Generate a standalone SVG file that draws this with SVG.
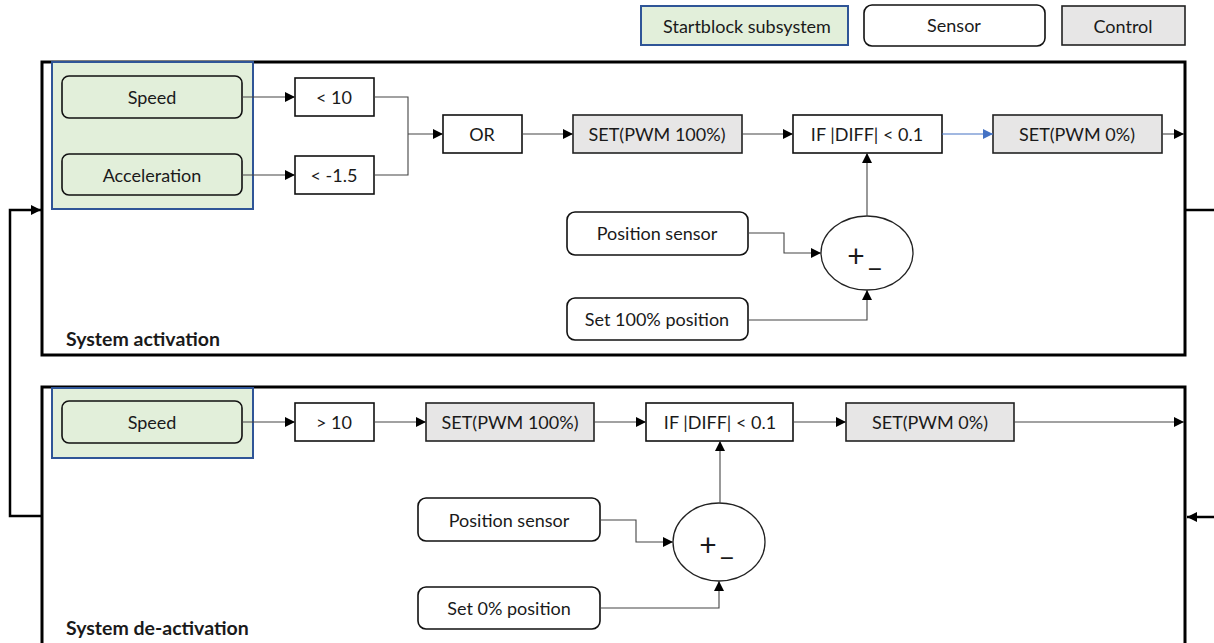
<svg xmlns="http://www.w3.org/2000/svg" width="1214" height="643" viewBox="0 0 1214 643">
<style>
text{font-family:Lato,"Liberation Sans",sans-serif;font-size:18px;fill:#1a1a1a;text-anchor:middle;dominant-baseline:central}
.lbl{font-weight:bold;text-anchor:start;font-size:19.5px}
.pm{font-size:30px}
.frame{fill:none;stroke:#000;stroke-width:3}
.start{fill:#e2efda;stroke:#2f5597;stroke-width:2}
.sensor{fill:#fff;stroke:#111;stroke-width:1.6}
.ctrl{fill:#e7e6e6;stroke:#222;stroke-width:1.6}
.box{fill:#fff;stroke:#111;stroke-width:1.6}
.sg{fill:#e2efda;stroke:#111;stroke-width:1.6}
.c{fill:none;stroke:#444;stroke-width:1.1}
.cb{fill:none;stroke:#4472c4;stroke-width:1.1}
.ck{fill:none;stroke:#000;stroke-width:2.5}
</style>
<defs>
<marker id="a" markerUnits="userSpaceOnUse" markerWidth="12" markerHeight="12" viewBox="0 0 12 12" refX="11" refY="6" orient="auto"><path d="M1,1 L11,6 L1,11 Z" fill="#000"/></marker>
<marker id="ab" markerUnits="userSpaceOnUse" markerWidth="12" markerHeight="12" viewBox="0 0 12 12" refX="11" refY="6" orient="auto"><path d="M1,1 L11,6 L1,11 Z" fill="#4472c4"/></marker>
</defs>

<g id="legend">
<g id="legend-start"><rect class="start" x="641" y="6" width="207" height="39"/><text x="747" y="26">Startblock subsystem</text></g>
<g id="legend-sensor"><rect class="sensor" x="864" y="5" width="181" height="41" rx="8"/><text x="954" y="25">Sensor</text></g>
<g id="legend-control"><rect class="ctrl" x="1062" y="6" width="123" height="39"/><text x="1123" y="26">Control</text></g>
</g>

<g id="frame-activation">
<rect class="frame" x="42" y="62" width="1143" height="293"/>
<text class="lbl" x="66" y="338">System activation</text>
</g>
<g id="frame-deactivation">
<path class="frame" d="M42,650 V387 H1185 V650"/>
<text class="lbl" x="66" y="627">System de-activation</text>
</g>

<g id="startblock-top"><rect class="start" x="52" y="62" width="201" height="147"/></g>
<g id="startblock-bottom"><rect class="start" x="52" y="388" width="201" height="70"/></g>

<g id="speed1"><rect class="sg" x="62" y="76" width="180" height="42" rx="7"/><text x="152" y="97">Speed</text></g>
<g id="accel"><rect class="sg" x="62" y="154" width="180" height="41" rx="7"/><text x="152" y="175">Acceleration</text></g>
<g id="lt10"><rect class="box" x="295" y="78" width="79" height="38"/><text x="334" y="97">&lt; 10</text></g>
<g id="ltm15"><rect class="box" x="295" y="156" width="79" height="38"/><text x="334" y="175">&lt; -1.5</text></g>
<g id="or"><rect class="box" x="443" y="115" width="79" height="38"/><text x="482" y="134">OR</text></g>
<g id="set100a"><rect class="ctrl" x="573" y="115" width="169" height="38"/><text x="657" y="134">SET(PWM 100%)</text></g>
<g id="ifa"><rect class="box" x="793" y="115" width="149" height="38"/><text x="867" y="134">IF |DIFF| &lt; 0.1</text></g>
<g id="set0a"><rect class="ctrl" x="993" y="115" width="169" height="38"/><text x="1077" y="134">SET(PWM 0%)</text></g>
<g id="sum-a"><ellipse cx="867" cy="253" rx="46" ry="37" fill="#fff" stroke="#222" stroke-width="1.3"/><text class="pm" x="856" y="255">+</text><text class="pm" x="875" y="254">_</text></g>
<g id="possens-a"><rect class="sensor" x="567" y="212" width="181" height="43" rx="8"/><text x="657" y="233">Position sensor</text></g>
<g id="set100pos"><rect class="sensor" x="567" y="298" width="181" height="42" rx="8"/><text x="657" y="319">Set 100% position</text></g>

<g id="speed2"><rect class="sg" x="62" y="401" width="180" height="42" rx="7"/><text x="152" y="422">Speed</text></g>
<g id="gt10"><rect class="box" x="295" y="403" width="79" height="38"/><text x="334" y="422">&gt; 10</text></g>
<g id="set100b"><rect class="ctrl" x="426" y="403" width="168" height="38"/><text x="510" y="422">SET(PWM 100%)</text></g>
<g id="ifb"><rect class="box" x="646" y="403" width="147" height="38"/><text x="720" y="422">IF |DIFF| &lt; 0.1</text></g>
<g id="set0b"><rect class="ctrl" x="846" y="403" width="168" height="38"/><text x="930" y="422">SET(PWM 0%)</text></g>
<g id="sum-b"><ellipse cx="719" cy="542" rx="46" ry="39" fill="#fff" stroke="#222" stroke-width="1.3"/><text class="pm" x="708" y="544">+</text><text class="pm" x="727" y="543">_</text></g>
<g id="possens-b"><rect class="sensor" x="418" y="498" width="182" height="43" rx="8"/><text x="509" y="520">Position sensor</text></g>
<g id="set0pos"><rect class="sensor" x="418" y="587" width="182" height="42" rx="8"/><text x="509" y="608">Set 0% position</text></g>

<g id="connectors">
<path class="c" d="M242,97 H295" marker-end="url(#a)"/>
<path class="c" d="M242,175 H295" marker-end="url(#a)"/>
<path class="c" d="M374,97 H408 V175 H374"/>
<path class="c" d="M408,134 H443" marker-end="url(#a)"/>
<path class="c" d="M522,134 H573" marker-end="url(#a)"/>
<path class="c" d="M742,134 H793" marker-end="url(#a)"/>
<path class="cb" d="M942,134 H993" marker-end="url(#ab)"/>
<path class="c" d="M1162,134 H1184" marker-end="url(#a)"/>
<path class="c" d="M867,216 V153" marker-end="url(#a)"/>
<path class="c" d="M748,233 H784 V253 H821" marker-end="url(#a)"/>
<path class="c" d="M748,320 H867 V290" marker-end="url(#a)"/>

<path class="c" d="M242,422 H295" marker-end="url(#a)"/>
<path class="c" d="M374,422 H426" marker-end="url(#a)"/>
<path class="c" d="M594,422 H646" marker-end="url(#a)"/>
<path class="c" d="M793,422 H846" marker-end="url(#a)"/>
<path class="c" d="M1014,422 H1184" marker-end="url(#a)"/>
<path class="c" d="M720,503 V441" marker-end="url(#a)"/>
<path class="c" d="M600,520 H636 V542 H673" marker-end="url(#a)"/>
<path class="c" d="M600,608 H719 V581" marker-end="url(#a)"/>

<path class="ck" d="M42,516 H10 V210 H41" marker-end="url(#a)"/>
<path class="ck" d="M1186,210 H1214"/>
<path class="ck" d="M1214,517 H1187" marker-end="url(#a)"/>
</g>
</svg>
